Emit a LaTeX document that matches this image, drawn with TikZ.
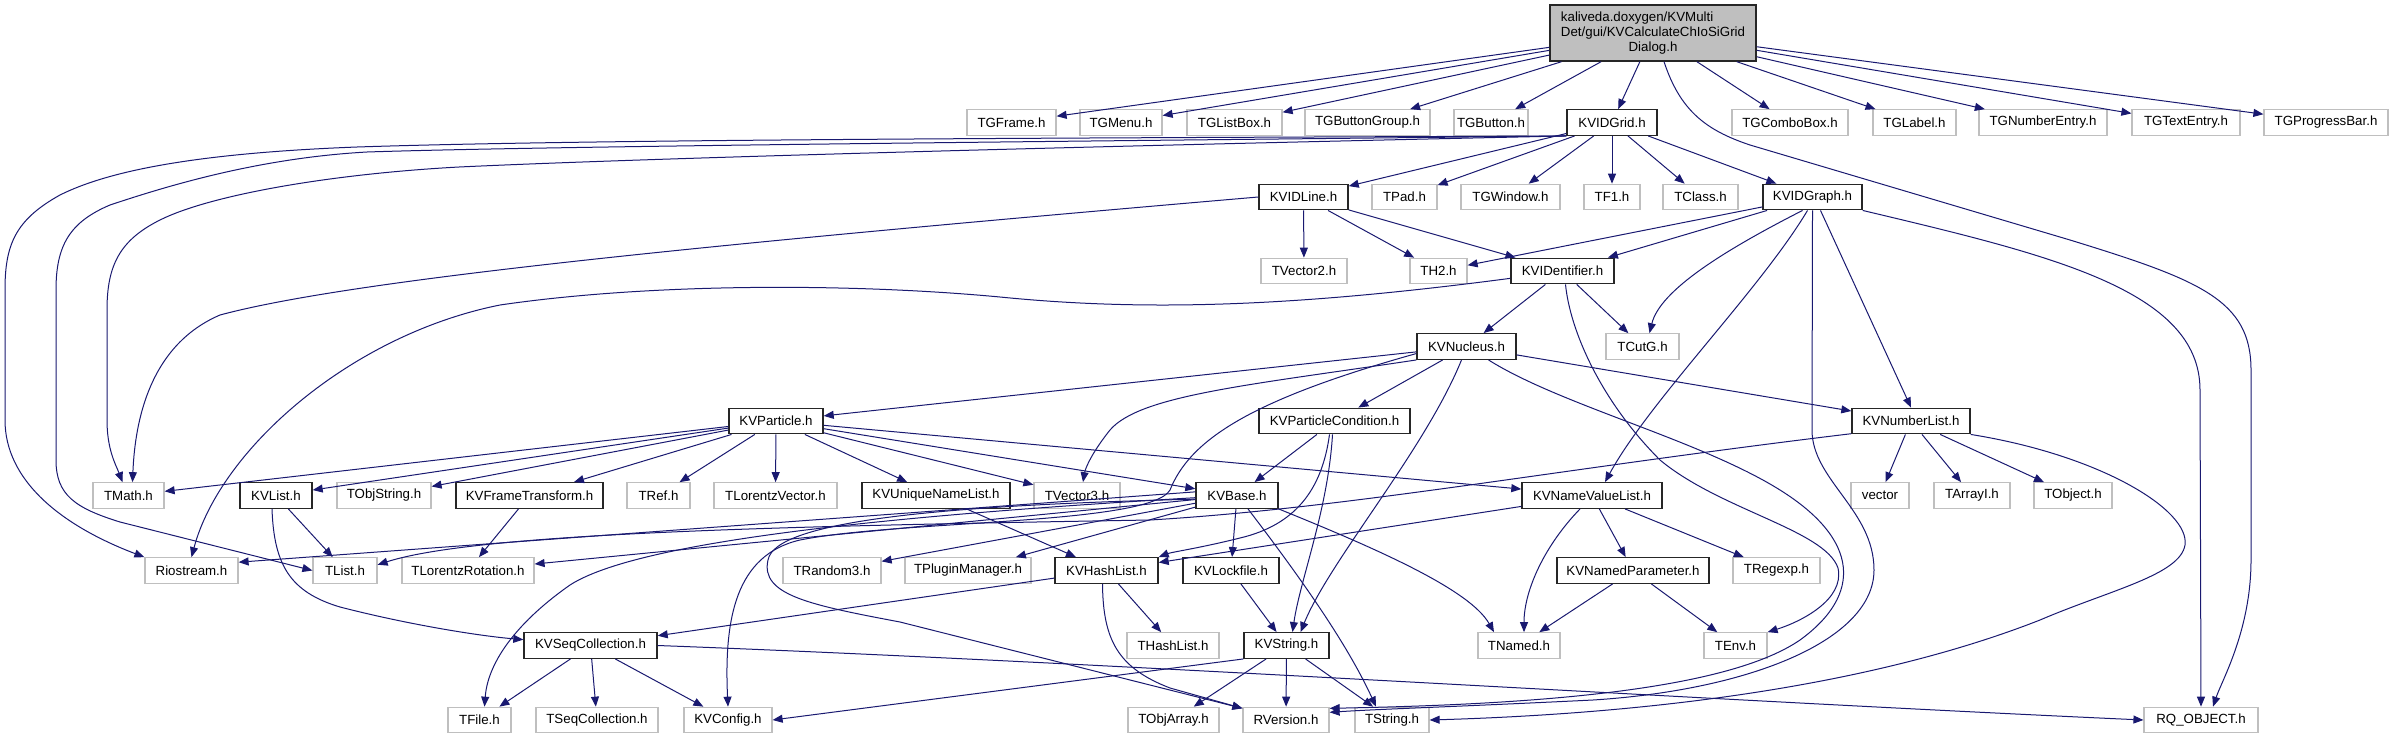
\documentclass[tikz,border=0pt]{standalone}
\usepackage{fontspec}
\setmainfont{Liberation Sans}
\usetikzlibrary{arrows.meta}
\definecolor{edgec}{HTML}{191970}
\definecolor{grayb}{HTML}{BFBFBF}
\tikzset{
  box/.style={rectangle, fill=white, inner sep=0pt, minimum height=25.5pt, font=\fontsize{13.3}{15}\selectfont, text=black},
  gbox/.style={box, draw=grayb, line width=1.2pt},
  kbox/.style={box, draw=black!85, line width=1.4pt},
  rootbox/.style={box, draw=black!85, line width=1.4pt, fill=grayb, minimum height=56pt},
  edge/.style={draw=edgec, line width=1pt, -{Triangle[length=10pt,width=8pt]}}
}
\begin{document}
\begin{tikzpicture}[x=1pt,y=-1pt]
\useasboundingbox (0,0) rectangle (2393,739);
% row 0
\node[rootbox, minimum width=206pt] (root) at (1653,33) {\begin{tabular}{@{}l@{}}kaliveda.doxygen/KVMulti\\Det/gui/KVCalculateChIoSiGrid\\\multicolumn{1}{@{}c@{}}{Dialog.h}\end{tabular}};
% row 1
\node[gbox, minimum width=89pt] (tgframe) at (1011.5,122.5) {TGFrame.h};
\node[gbox, minimum width=82pt] (tgmenu) at (1121,122.5) {TGMenu.h};
\node[gbox, minimum width=95pt] (tglistbox) at (1234.5,122.5) {TGListBox.h};
\node[gbox, minimum width=125pt] (tgbuttongroup) at (1367.5,122.5) {TGButtonGroup.h};
\node[gbox, minimum width=74pt] (tgbutton) at (1491,122.5) {TGButton.h};
\node[kbox, minimum width=90pt] (kvidgrid) at (1612,122.5) {KVIDGrid.h};
\node[gbox, minimum width=116pt] (tgcombobox) at (1790,122.5) {TGComboBox.h};
\node[gbox, minimum width=83pt] (tglabel) at (1914.5,122.5) {TGLabel.h};
\node[gbox, minimum width=128pt] (tgnumberentry) at (2043,122.5) {TGNumberEntry.h};
\node[gbox, minimum width=108pt] (tgtextentry) at (2186,122.5) {TGTextEntry.h};
\node[gbox, minimum width=124pt] (tgprogressbar) at (2326,122.5) {TGProgressBar.h};
% row 2
\node[kbox, minimum width=89pt] (kvidline) at (1303.5,197) {KVIDLine.h};
\node[gbox, minimum width=65pt] (tpad) at (1404.5,197) {TPad.h};
\node[gbox, minimum width=99pt] (tgwindow) at (1510.5,197) {TGWindow.h};
\node[gbox, minimum width=56pt] (tfone) at (1612,197) {TF1.h};
\node[gbox, minimum width=75pt] (tclass) at (1700.5,197) {TClass.h};
\node[kbox, minimum width=99pt] (kvidgraph) at (1812.5,197) {KVIDGraph.h};
% row 3
\node[gbox, minimum width=86pt] (tvectortwo) at (1304,271) {TVector2.h};
\node[gbox, minimum width=57pt] (thtwo) at (1438.5,271) {TH2.h};
\node[kbox, minimum width=103pt] (kvidentifier) at (1562.5,271) {KVIDentifier.h};
% row 4
\node[kbox, minimum width=99pt] (kvnucleus) at (1466.5,346.5) {KVNucleus.h};
\node[gbox, minimum width=73pt] (tcutg) at (1642.5,346.5) {TCutG.h};
% row 5
\node[kbox, minimum width=94pt] (kvparticle) at (776,421) {KVParticle.h};
\node[kbox, minimum width=151pt] (kvparticlecondition) at (1334.5,421) {KVParticleCondition.h};
\node[kbox, minimum width=118pt] (kvnumberlist) at (1911,421) {KVNumberList.h};
% row 6
\node[gbox, minimum width=71pt] (tmath) at (128.5,495.5) {TMath.h};
\node[kbox, minimum width=72pt] (kvlist) at (276,495.5) {KVList.h};
\node[gbox, minimum width=94pt] (tobjstring) at (384,495.5) {TObjString.h};
\node[kbox, minimum width=147pt] (kvframetransform) at (529.5,495.5) {KVFrameTransform.h};
\node[gbox, minimum width=63pt] (tref) at (658.5,495.5) {TRef.h};
\node[gbox, minimum width=123pt] (tlorentzvector) at (775.5,495.5) {TLorentzVector.h};
\node[kbox, minimum width=148pt] (kvuniquenamelist) at (936,495.5) {KVUniqueNameList.h};
\node[gbox, minimum width=86pt] (tvectorthree) at (1077,495.5) {TVector3.h};
\node[kbox, minimum width=82pt] (kvbase) at (1237,495.5) {KVBase.h};
\node[kbox, minimum width=140pt] (kvnamevaluelist) at (1592,495.5) {KVNameValueList.h};
\node[gbox, minimum width=58pt] (vectorh) at (1880,495.5) {vector};
\node[gbox, minimum width=76pt] (tarrayi) at (1972,495.5) {TArrayI.h};
\node[gbox, minimum width=78pt] (tobject) at (2073,495.5) {TObject.h};
% row 7
\node[gbox, minimum width=93pt] (riostream) at (191.5,570.5) {Riostream.h};
\node[gbox, minimum width=64pt] (tlist) at (345,570.5) {TList.h};
\node[gbox, minimum width=132pt] (tlorentzrotation) at (468,570.5) {TLorentzRotation.h};
\node[gbox, minimum width=98pt] (trandom) at (832,570.5) {TRandom3.h};
\node[gbox, minimum width=126pt] (tpluginmanager) at (968,570.5) {TPluginManager.h};
\node[kbox, minimum width=103pt] (kvhashlist) at (1106.5,570.5) {KVHashList.h};
\node[kbox, minimum width=96pt] (kvlockfile) at (1231,570.5) {KVLockfile.h};
\node[kbox, minimum width=152pt] (kvnamedparameter) at (1633,570.5) {KVNamedParameter.h};
\node[gbox, minimum width=87pt] (tregexp) at (1776.5,570.5) {TRegexp.h};
% row 8
\node[kbox, minimum width=133pt] (kvseqcollection) at (590.5,645.5) {KVSeqCollection.h};
\node[gbox, minimum width=92pt] (thashlist) at (1173,645.5) {THashList.h};
\node[kbox, minimum width=85pt] (kvstring) at (1286.5,645.5) {KVString.h};
\node[gbox, minimum width=82pt] (tnamed) at (1519,645.5) {TNamed.h};
\node[gbox, minimum width=63pt] (tenv) at (1735.5,645.5) {TEnv.h};
% row 9
\node[gbox, minimum width=63pt] (tfile) at (479.5,720) {TFile.h};
\node[gbox, minimum width=122pt] (tseqcollection) at (597,720) {TSeqCollection.h};
\node[gbox, minimum width=88pt] (kvconfig) at (728,720) {KVConfig.h};
\node[gbox, minimum width=91pt] (tobjarray) at (1173.5,720) {TObjArray.h};
\node[gbox, minimum width=86pt] (rversion) at (1286,720) {RVersion.h};
\node[gbox, minimum width=74pt] (tstring) at (1392,720) {TString.h};
\node[gbox, minimum width=114pt] (rqobject) at (2201,720) {RQ\_OBJECT.h};

% root edges
\foreach \t in {tgframe,tgmenu,tglistbox,tgbuttongroup,tgbutton,kvidgrid,tgcombobox,tglabel,tgnumberentry,tgtextentry,tgprogressbar}
  \draw[edge] (root) -- (\t);
\draw[edge] ([xshift=11pt]root.south) .. controls (1680,110) and (1705,130) .. (1750,145) -- (2070,240) .. controls (2200,280) and (2251,300) .. (2251,370) -- (2251,560) .. controls (2251,630) and (2222,680) .. ([xshift=12pt]rqobject.north);

% KVIDGrid edges
\foreach \t in {kvidline,tpad,tgwindow,tfone,tclass,kvidgraph}
  \draw[edge] (kvidgrid) -- (\t);
\draw[edge] (kvidgrid.south west) .. controls (1100,138) and (600,139) .. (357,147) .. controls (200,153) and (110,170) .. (60,195) .. controls (15,220) and (5,245) .. (5,290) -- (5,420) .. controls (5,480) and (60,525) .. (riostream.north west);
\draw[edge] (kvidgrid.south west) .. controls (1100,141) and (550,146) .. (367,152) .. controls (260,158) and (170,185) .. (110,205) .. controls (70,222) and (56,245) .. (56,290) -- (56,460) .. controls (56,495) and (75,508) .. (120,522) -- (tlist.west);
\draw[edge] (kvidgrid.south west) .. controls (1100,146) and (650,158) .. (459,167) .. controls (330,174) and (210,195) .. (160,220) .. controls (120,240) and (107,265) .. (107,310) -- (107,420) .. controls (107,450) and (116,465) .. ([xshift=-6pt]tmath.north);

% KVIDLine edges
\draw[edge] (kvidline) -- (tvectortwo);
\draw[edge] (kvidline) -- (thtwo);
\draw[edge] (kvidline) -- (kvidentifier);
\draw[edge] (kvidline.west) .. controls (700,245) and (350,280) .. (220,315) .. controls (150,345) and (135,420) .. ([xshift=4pt]tmath.north);

% KVIDGraph edges
\draw[edge] (kvidgraph) -- (thtwo);
\draw[edge] (kvidgraph) -- (kvidentifier);
\draw[edge] ([xshift=-10pt]kvidgraph.south) .. controls (1725,250) and (1660,290) .. ([xshift=7pt]tcutg.north);
\draw[edge] ([xshift=-5pt]kvidgraph.south) .. controls (1760,290) and (1650,400) .. ([xshift=13pt]kvnamevaluelist.north);
\draw[edge] ([xshift=8pt]kvidgraph.south) -- (kvnumberlist.north);
\draw[edge] (kvidgraph.south) -- (1812,430) .. controls (1812,480) and (1874,510) .. (1874,570) .. controls (1874,640) and (1750,690) .. (1593,700) .. controls (1450,707) and (1380,709) .. (rversion.10);
\draw[edge] (kvidgraph.south east) .. controls (2050,255) and (2200,290) .. (2200,390) -- (rqobject.north);

% KVIDentifier edges
\draw[edge] (kvidentifier) -- (kvnucleus);
\draw[edge] (kvidentifier) -- (tcutg);
\draw[edge] (kvidentifier.188) .. controls (1300,306) and (1150,312) .. (1000,297) .. controls (850,283) and (650,283) .. (500,305) .. controls (350,335) and (220,450) .. (riostream.north);
\draw[edge] ([xshift=3pt]kvidentifier.south) .. controls (1570,330) and (1600,400) .. (1660,460) .. controls (1720,510) and (1825,530) .. (1838,568) .. controls (1845,600) and (1800,622) .. (tenv.north east);

% KVNucleus edges
\draw[edge] (kvnucleus) -- (kvparticle);
\draw[edge] (kvnucleus.195) .. controls (1250,385) and (1140,395) .. (1110,430) .. controls (1090,455) and (1085,470) .. ([xshift=6pt]tvectorthree.north);
\draw[edge] (kvnucleus) -- (kvparticlecondition);
\draw[edge] (kvnucleus) -- (kvnumberlist);
\draw[edge] ([xshift=-5pt]kvnucleus.south) .. controls (1425,450) and (1330,560) .. ([xshift=14pt]kvstring.north);
\draw[edge] (kvnucleus.188) .. controls (1250,400) and (1190,440) .. (1170,490) .. controls (1150,525) and (900,520) .. (800,540) .. controls (735,555) and (724,620) .. (kvconfig.north);
\draw[edge] ([xshift=22pt]kvnucleus.south) .. controls (1560,405) and (1700,440) .. (1780,490) .. controls (1860,540) and (1862,595) .. (1800,640) .. controls (1720,695) and (1500,705) .. (rversion.15);

% KVParticle edges
\foreach \t in {tmath,kvlist,tobjstring,kvframetransform,tref,tlorentzvector,kvuniquenamelist,tvectorthree,kvbase,kvnamevaluelist}
  \draw[edge] (kvparticle) -- (\t);

% KVParticleCondition edges
\draw[edge] (kvparticlecondition) -- (kvbase);
\draw[edge] ([xshift=-2pt]kvparticlecondition.south) .. controls (1328,510) and (1300,580) .. ([xshift=6pt]kvstring.north);
\draw[edge] ([xshift=-5pt]kvparticlecondition.south) .. controls (1322,490) and (1295,525) .. (1240,538) .. controls (1200,548) and (1172,552) .. (kvhashlist.north east);

% KVNumberList edges
\draw[edge] (kvnumberlist) -- (vectorh);
\draw[edge] (kvnumberlist) -- (tarrayi);
\draw[edge] (kvnumberlist) -- (tobject);
\draw[edge] (kvnumberlist.south east) .. controls (2100,455) and (2190,510) .. (2185,545) .. controls (2180,575) and (2110,590) .. (2040,620) .. controls (1900,675) and (1700,712) .. (tstring.east);
\draw[edge] (kvnumberlist.192) .. controls (1550,470) and (1350,508) .. (1150,520) .. controls (800,526) and (480,532) .. (tlist.10);

% KVBase edges
\draw[edge] (kvbase.175) -- (riostream.10);
\draw[edge] (kvbase) -- (tlorentzrotation);
\draw[edge] (kvbase.183) .. controls (900,515) and (640,540) .. (570,585) .. controls (520,620) and (488,660) .. ([xshift=5pt]tfile.north);
\draw[edge] (kvbase.185) .. controls (950,505) and (775,520) .. (768,560) .. controls (760,595) and (810,605) .. (900,622) -- (rversion.165);
\draw[edge] (kvbase) -- (trandom);
\draw[edge] (kvbase) -- (tpluginmanager);
\draw[edge] (kvbase) -- (kvlockfile);
\draw[edge] (kvbase.south east) .. controls (1380,550) and (1470,590) .. ([xshift=-25pt]tnamed.north);
\draw[edge] ([xshift=11pt]kvbase.south) .. controls (1310,590) and (1350,650) .. ([xshift=-16pt]tstring.north);

% KVList / KVFrameTransform / KVUniqueNameList
\draw[edge] (kvlist) -- (tlist);
\draw[edge] ([xshift=-4pt]kvlist.south) .. controls (274,565) and (290,592) .. (340,607) .. controls (410,625) and (480,636) .. (kvseqcollection.175);
\draw[edge] (kvframetransform) -- (tlorentzrotation);
\draw[edge] (kvuniquenamelist) -- (kvhashlist);

% KVNameValueList edges
\draw[edge] (kvnamevaluelist) -- (kvhashlist);
\draw[edge] ([xshift=-12pt]kvnamevaluelist.south) .. controls (1545,545) and (1524,590) .. ([xshift=5pt]tnamed.north);
\draw[edge] (kvnamevaluelist) -- (kvnamedparameter);
\draw[edge] (kvnamevaluelist) -- (tregexp);

% KVHashList edges
\draw[edge] (kvhashlist) -- (kvseqcollection);
\draw[edge] (kvhashlist) -- (thashlist);
\draw[edge] ([xshift=-4pt]kvhashlist.south) .. controls (1103,640) and (1118,668) .. (1170,688) -- (rversion.165);

% KVLockfile, KVNamedParameter
\draw[edge] (kvlockfile) -- (kvstring);
\draw[edge] (kvnamedparameter) -- (tnamed);
\draw[edge] (kvnamedparameter) -- (tenv);

% KVSeqCollection edges
\draw[edge] (kvseqcollection) -- (tfile);
\draw[edge] (kvseqcollection) -- (tseqcollection);
\draw[edge] (kvseqcollection) -- (kvconfig);
\draw[edge] (kvseqcollection.east) .. controls (1100,662) and (1700,700) .. (rqobject.west);

% KVString edges
\draw[edge] (kvstring) -- (tobjarray);
\draw[edge] (kvstring) -- (rversion);
\draw[edge] (kvstring) -- (tstring);
\draw[edge] (kvstring.south west) -- (kvconfig.east);
\end{tikzpicture}
\end{document}
